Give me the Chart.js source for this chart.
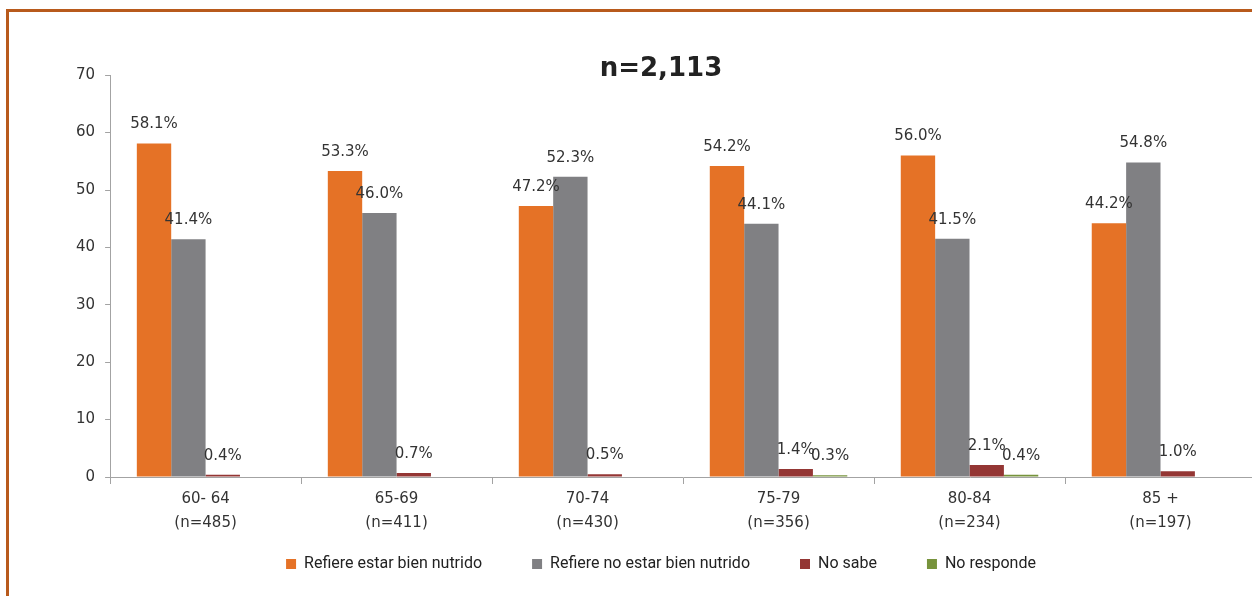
<!DOCTYPE html>
<html>
<head>
<meta charset="utf-8">
<script src="https://cdn.jsdelivr.net/npm/chart.js@4.4.1/dist/chart.umd.min.js"></script>
<style>
  html, body { margin: 0; padding: 0; background: #fff; overflow: hidden; }
  #frame { position: absolute; left: 6px; top: 9px; width: 2000px; height: 2000px;
           border-left: 3px solid #b85a1c; border-top: 3px solid #b85a1c; }
  #chart { position: absolute; left: 0; top: 0; }
</style>
</head>
<body>
<div id="frame"></div>
<canvas id="chart" width="1310" height="596"></canvas>
<script>
const categories = [['60- 64', '(n=485)'], ['65-69', '(n=411)'], ['70-74', '(n=430)'],
                    ['75-79', '(n=356)'], ['80-84', '(n=234)'], ['85 +', '(n=197)']];
const bienNutrido = [58.1, 53.3, 47.2, 54.2, 56.0, 44.2];
const noBienNutrido = [41.4, 46.0, 52.3, 44.1, 41.5, 54.8];
const noSabe = [0.4, 0.7, 0.5, 1.4, 2.1, 1.0];
const noResponde = [null, null, null, 0.3, 0.4, null];
const yTicks = [0, 10, 20, 30, 40, 50, 60, 70];

const AXIS_GRAY = '#a3a3a3';
const FONT = 'DejaVu Sans, Verdana, Bitstream Vera Sans, sans-serif';

// percentage labels above each bar
const barLabels = {
  id: 'barLabels',
  afterDatasetsDraw(chart) {
    const ctx = chart.ctx;
    ctx.save();
    ctx.font = '15px ' + FONT;
    ctx.fillStyle = '#333';
    ctx.textAlign = 'center';
    ctx.textBaseline = 'middle';
    chart.data.datasets.forEach((ds, i) => {
      chart.getDatasetMeta(i).data.forEach((bar, j) => {
        const v = ds.data[j];
        if (v === null || v === undefined) return;
        ctx.fillText(v.toFixed(1) + '%', bar.x, bar.y - 19);
      });
    });
    ctx.restore();
  }
};

new Chart(document.getElementById('chart'), {
  type: 'bar',
  data: {
    labels: categories,
    datasets: [
      { label: 'Refiere estar bien nutrido', data: bienNutrido, backgroundColor: '#e57226' },
      { label: 'Refiere no estar bien nutrido', data: noBienNutrido, backgroundColor: '#808083' },
      { label: 'No sabe', data: noSabe, backgroundColor: '#943634' },
      { label: 'No responde', data: noResponde, backgroundColor: '#77933c' }
    ]
  },
  options: {
    responsive: false,
    animation: false,
    datasets: { bar: { categoryPercentage: 0.72, barPercentage: 1.0 } },
    layout: { padding: { left: 66, right: 54, top: 0, bottom: 14 } },
    plugins: {
      title: {
        display: true,
        text: 'n=2,113',
        color: '#222',
        font: { family: FONT, size: 26, weight: 'bold' },
        padding: { top: 54, bottom: -10 }
      },
      legend: {
        position: 'bottom',
        // empty title with negative padding pulls the items up closer to the axis
        title: { display: true, text: '', font: { size: 10 }, padding: { top: -22, bottom: -22 } },
        labels: {
          boxWidth: 10, boxHeight: 10, padding: 50, color: '#222',
          font: { family: '"Liberation Sans Narrow", "Roboto", sans-serif', size: 16 }
        }
      },
      tooltip: { enabled: false }
    },
    scales: {
      x: {
        grid: { display: true, drawOnChartArea: false, offset: true, tickLength: 7, color: AXIS_GRAY },
        border: { display: true, color: AXIS_GRAY },
        ticks: {
          color: '#333', padding: 3, maxRotation: 0,
          font: { family: FONT, size: 15, lineHeight: 1.6 }
        }
      },
      y: {
        min: 0, max: 70,
        afterBuildTicks(scale) { scale.ticks = yTicks.map(v => ({ value: v })); },
        grid: { display: true, drawOnChartArea: false, tickLength: 5, color: AXIS_GRAY },
        border: { display: true, color: AXIS_GRAY },
        ticks: {
          color: '#333', padding: 10,
          font: { family: FONT, size: 15 }
        }
      }
    }
  },
  plugins: [barLabels]
});
</script>
</body>
</html>
